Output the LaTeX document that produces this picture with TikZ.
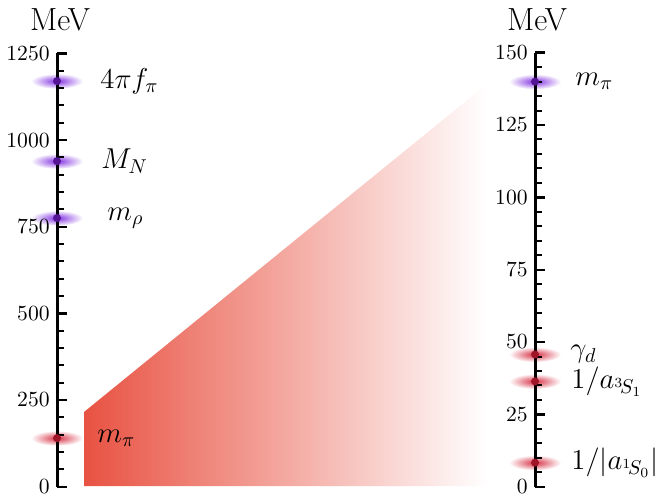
\documentclass[tikz,border=0pt]{standalone}
\usepackage{amsmath, amssymb}
\usepackage{xcolor}
\usepackage{tikz}
\usetikzlibrary{positioning}

\definecolor{piRed}{RGB}{232,82,66}
\definecolor{glowPurple}{RGB}{130,50,225}
\definecolor{dotPurple}{RGB}{85,20,150}
\definecolor{glowRed}{RGB}{215,50,70}
\definecolor{dotRed}{RGB}{160,20,40}

\begin{document}
\begin{tikzpicture}[
  x=0.5pt, y=-0.5pt,
  scaleaxis/.style={line width=1.5pt},
  minortick/.style={line width=1pt},
  majortick/.style={line width=1.2pt},
  numlabel/.style={anchor=east, inner sep=0pt, font=\fontsize{10.8}{12}\selectfont},
  unitlabel/.style={inner sep=0pt, font=\fontsize{16}{18}\selectfont},
  mlabel/.style={anchor=west, inner sep=0pt, font=\fontsize{14.2}{16}\selectfont},
  glowp/.style={inner color=glowPurple, outer color=white},
  glowr/.style={inner color=glowRed, outer color=white}
]
\useasboundingbox (0,0) rectangle (656,496);

% Region
\shade[left color=piRed, middle color=piRed!62!white, right color=white]
  (84,486) -- (84,412) -- (487,84) -- (487,486) -- cycle;

% Left scale
\node[unitlabel] (lunit) at (60,20) {MeV};
\begin{scope}[shift={(57,486.7)}, y=0.17333pt]
  \foreach \e in {1170,939,775}
    \shade[glowp] (0,\e) ellipse [x radius=13pt, y radius=3.8pt];
  \shade[glowr] (0,140) ellipse [x radius=13pt, y radius=3.8pt];
  \draw[scaleaxis] (0,0) -- (0,1250);
  \foreach \v in {0,50,...,1250}
    \draw[minortick] (0,\v) -- (7,\v);
  \foreach \v in {0,250,...,1250}{
    \draw[majortick] (0,\v) -- (10,\v);
    \node[numlabel] (ln\v) at (-7,\v) {\v};
  }
  \foreach \e in {1170,939,775}
    \fill[dotPurple] (0,\e) circle [radius=2pt];
  \fill[dotRed] (0,140) circle [radius=2pt];
  \node[mlabel] (lfpi) at (43,1170) {$4\pi f_\pi$};
  \node[mlabel] (lmn) at (44,939) {$M_N$};
  \node[mlabel] (lmrho) at (50,775) {$m_\rho$};
  \node[mlabel] (lmpi) at (40,140) {$m_\pi$};
\end{scope}

% Right scale
\node[unitlabel] (runit) at (537,20) {MeV};
\begin{scope}[shift={(535,486.7)}, y=1.44667pt]
  \shade[glowp] (0,140) ellipse [x radius=13pt, y radius=3.8pt];
  \foreach \e in {45.7,36.4,8.3}
    \shade[glowr] (0,\e) ellipse [x radius=13pt, y radius=3.8pt];
  \draw[scaleaxis] (0,0) -- (0,150);
  \foreach \v in {0,5,...,150}
    \draw[minortick] (0,\v) -- (7,\v);
  \foreach \v in {0,25,...,150}{
    \draw[majortick] (0,\v) -- (10,\v);
    \node[numlabel] (rn\v) at (-7,\v) {\v};
  }
  \fill[dotPurple] (0,140) circle [radius=2pt];
  \foreach \e in {45.7,36.4,8.3}
    \fill[dotRed] (0,\e) circle [radius=2pt];
  \node[mlabel] (rmpi) at (40,140) {$m_\pi$};
  \node[mlabel] (rgam) at (35,45.7) {$\gamma_d$};
  \node[mlabel] (rtrip) at (36,36.4) {$1/a_{{}^3\!S_1}$};
  \node[mlabel] (rsing) at (36,8.3) {$1/|a_{{}^1\!S_0}|$};
\end{scope}
\end{tikzpicture}
\end{document}
